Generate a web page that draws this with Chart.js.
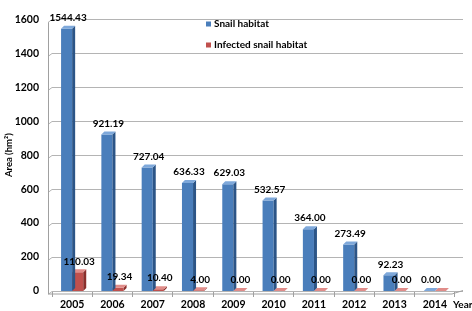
<!DOCTYPE html>
<html><head><meta charset="utf-8">
<script src="https://cdn.jsdelivr.net/npm/chart.js@4"></script>
<style>html,body{margin:0;padding:0;background:#fff;} canvas{display:block;}</style>
</head><body>
<canvas id="c" width="472" height="311"></canvas>
<script>
const years = ['2005','2006','2007','2008','2009','2010','2011','2012','2013','2014'];
const snailHabitat = [1544.43, 921.19, 727.04, 636.33, 629.03, 532.57, 364.00, 273.49, 92.23, 0.00];
const infectedHabitat = [110.03, 19.34, 10.40, 4.00, 0.00, 0.00, 0.00, 0.00, 0.00, 0.00];
const seriesNames = ['Snail habitat', 'Infected snail habitat'];
const yMin = 0, yMax = 1600, yStep = 200;
const yAxisTitle = 'Area (hm\u00B2)';
const xAxisTitle = 'Year';

const FONT = 'Lato, "Liberation Sans", sans-serif';
const DEPTH = 3;
const faces = [
  {front:'#4a7ebb', side:'#2c5587', top:'#7ea8da'},
  {front:'#c0504d', side:'#8a2f2c', top:'#e08c89'}
];

const walls = {
  id: 'walls',
  beforeDatasetsDraw(chart) {
    const ctx = chart.ctx, a = chart.chartArea, ys = chart.scales.y;
    ctx.save();
    ctx.strokeStyle = '#b4b4b4';
    ctx.lineWidth = 1;
    ys.ticks.forEach(t => {
      const y = Math.round(ys.getPixelForValue(t.value)) + 0.5;
      ctx.beginPath();
      ctx.moveTo(a.left - 4, y + 3);
      ctx.lineTo(a.left, y);
      ctx.lineTo(a.right + 8, y);
      ctx.stroke();
    });
    ctx.strokeStyle = '#a0a0a0';
    ctx.beginPath();
    ctx.moveTo(a.left - 3.5, a.top + 3);
    ctx.lineTo(a.left - 3.5, a.bottom + 3);
    ctx.lineTo(a.right - 3, a.bottom + 3);
    ctx.lineTo(a.right + 8, a.bottom - 0.5);
    ctx.stroke();
    ctx.restore();
  }
};

const bar3d = {
  id: 'bar3d',
  afterDatasetDraw(chart, args) {
    const ctx = chart.ctx, col = faces[args.index], d = DEPTH;
    ctx.save();
    args.meta.data.forEach(el => {
      const p = el.getProps(['x','y','base','width'], true);
      const l = p.x - p.width/2, r = p.x + p.width/2;
      ctx.fillStyle = col.side;
      ctx.beginPath(); ctx.moveTo(r,p.y); ctx.lineTo(r+d,p.y-d); ctx.lineTo(r+d,p.base-d); ctx.lineTo(r,p.base); ctx.closePath(); ctx.fill();
      ctx.fillStyle = col.top;
      ctx.beginPath(); ctx.moveTo(l,p.y); ctx.lineTo(l+d,p.y-d); ctx.lineTo(r+d,p.y-d); ctx.lineTo(r,p.y); ctx.closePath(); ctx.fill();
    });
    ctx.restore();
  }
};

const valueLabels = {
  id: 'valueLabels',
  afterDatasetsDraw(chart) {
    const ctx = chart.ctx;
    ctx.save();
    ctx.font = 'bold 10px ' + FONT;
    ctx.fillStyle = '#000';
    ctx.textAlign = 'center';
    ctx.textBaseline = 'bottom';
    const drawn = [];
    chart.data.datasets.forEach((ds, di) => {
      chart.getDatasetMeta(di).data.forEach((el, i) => {
        const txt = ds.data[i].toFixed(2);
        const w = ctx.measureText(txt).width;
        const cx = el.x + DEPTH/2, by = el.y - DEPTH - 3;
        const box = {l: cx - w/2, r: cx + w/2, t: by - 10, b: by};
        if (drawn.some(b => b.l < box.r && box.l < b.r && b.t < box.b && box.t < b.b)) return;
        drawn.push(box);
        ctx.fillText(txt, cx, by);
      });
    });
    ctx.restore();
  }
};

const extras = {
  id: 'extras',
  afterDraw(chart) {
    const ctx = chart.ctx, a = chart.chartArea;
    ctx.save();
    ctx.font = 'bold 10px ' + FONT;
    ctx.textBaseline = 'middle';
    ctx.textAlign = 'left';
    const lx = 206, ly = [24, 45];
    chart.data.datasets.forEach((ds, i) => {
      ctx.fillStyle = ds.backgroundColor;
      ctx.fillRect(lx, ly[i] - 2.5, 5, 5);
      ctx.fillStyle = '#000';
      ctx.fillText(ds.label, lx + 8, ly[i]);
    });
    ctx.fillText(xAxisTitle, a.right - 2, 305);
    ctx.restore();
  }
};

new Chart(document.getElementById('c'), {
  type: 'bar',
  data: {
    labels: years,
    datasets: [
      {label: seriesNames[0], data: snailHabitat, backgroundColor: faces[0].front},
      {label: seriesNames[1], data: infectedHabitat, backgroundColor: faces[1].front}
    ]
  },
  options: {
    responsive: false,
    animation: false,
    layout: {padding: {left: 0, right: 17, top: 8, bottom: 0}},
    datasets: {bar: {categoryPercentage: 0.55, barPercentage: 1.0}},
    plugins: {legend: {display: false}, tooltip: {enabled: false}},
    scales: {
      x: {
        grid: {display: true, drawOnChartArea: false, drawTicks: true, tickLength: 6, color: '#a0a0a0', offset: true},
        border: {display: false},
        ticks: {font: {family: FONT, size: 10.5, weight: 'bold'}, color: '#000', padding: 1, maxRotation: 0},
        afterFit: s => { s.height = 20; }
      },
      y: {
        min: yMin, max: yMax,
        ticks: {stepSize: yStep, font: {family: FONT, size: 10.5, weight: 'bold'}, color: '#000', padding: 13,
                callback: v => String(v)},
        grid: {display: false, drawTicks: false},
        border: {display: false},
        title: {display: true, text: yAxisTitle, font: {family: FONT, size: 9.5, weight: 'bold'}, color: '#000', padding: {top: 3, bottom: 0}},
        afterFit: s => { s.width = 52; }
      }
    }
  },
  plugins: [walls, bar3d, valueLabels, extras]
});
</script>
</body></html>
